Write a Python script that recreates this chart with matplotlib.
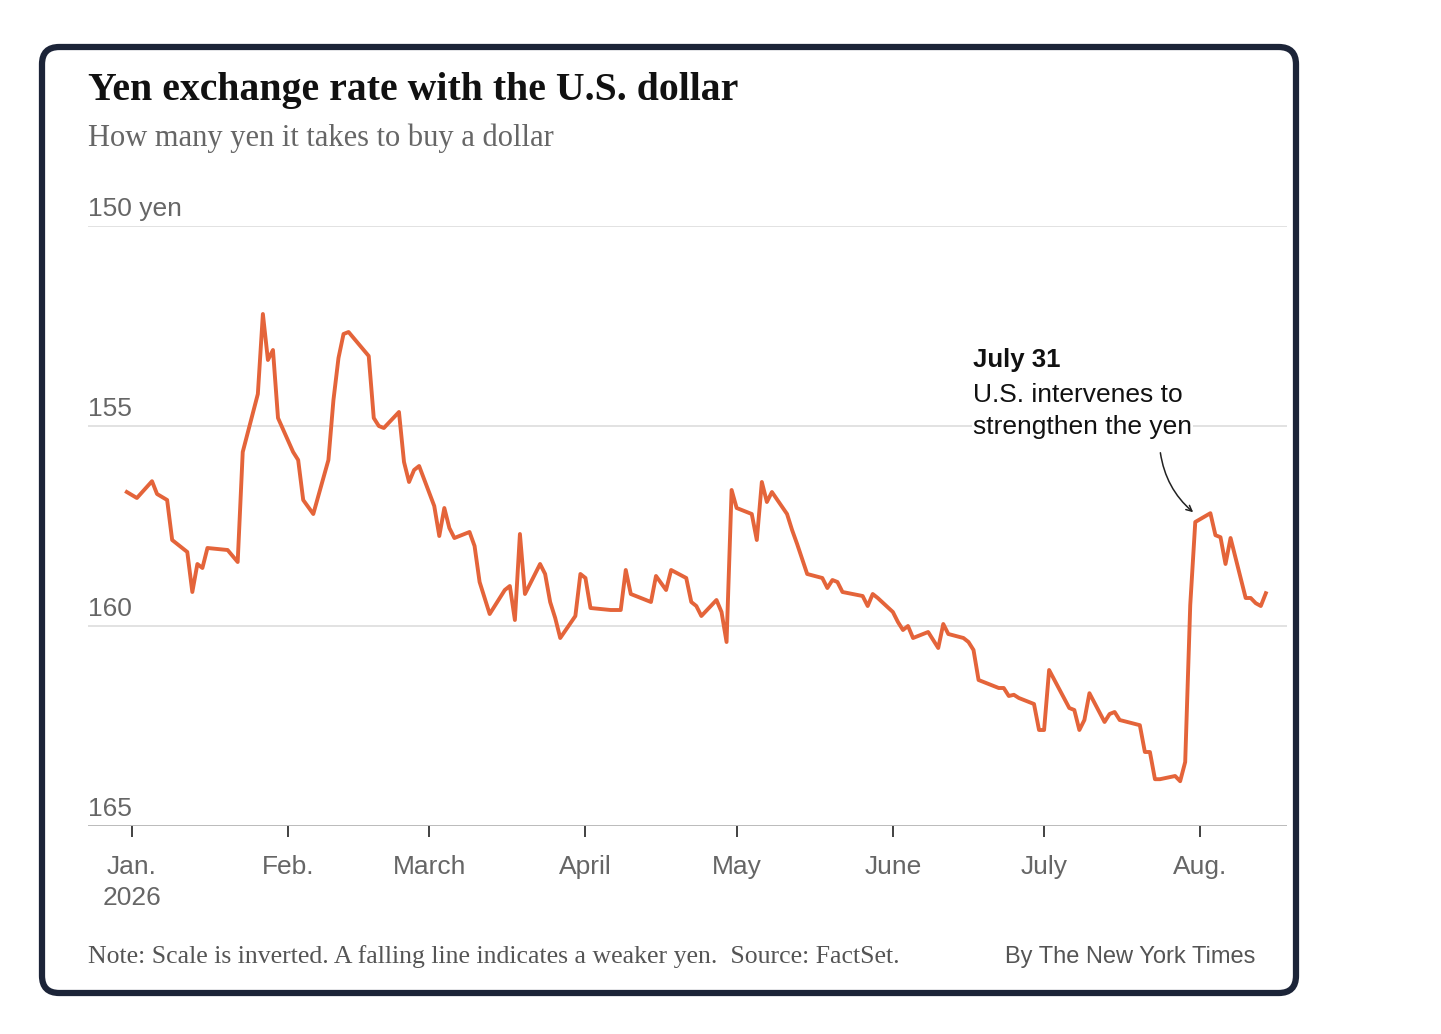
import matplotlib
matplotlib.use("Agg")
import matplotlib.pyplot as plt
from matplotlib.patches import FancyBboxPatch
import datetime as dt

dates = ["2025-12-31","2026-01-02","2026-01-05","2026-01-06","2026-01-08","2026-01-09","2026-01-12","2026-01-13",
"2026-01-14","2026-01-15","2026-01-16","2026-01-20","2026-01-22","2026-01-23","2026-01-26","2026-01-27","2026-01-28",
"2026-01-29","2026-01-30","2026-02-02","2026-02-03","2026-02-04","2026-02-06","2026-02-09","2026-02-10","2026-02-11",
"2026-02-12","2026-02-13","2026-02-17","2026-02-18","2026-02-19","2026-02-20","2026-02-23","2026-02-24","2026-02-25",
"2026-02-26","2026-02-27","2026-03-02","2026-03-03","2026-03-04","2026-03-05","2026-03-06","2026-03-09","2026-03-10",
"2026-03-11","2026-03-13","2026-03-16","2026-03-17","2026-03-18","2026-03-19","2026-03-20","2026-03-23","2026-03-24",
"2026-03-25","2026-03-26","2026-03-27","2026-03-30","2026-03-31","2026-04-01","2026-04-02","2026-04-06","2026-04-08",
"2026-04-09","2026-04-10","2026-04-13","2026-04-14","2026-04-15","2026-04-17","2026-04-18","2026-04-21","2026-04-22",
"2026-04-23","2026-04-24","2026-04-27","2026-04-28","2026-04-29","2026-04-30","2026-05-01","2026-05-04","2026-05-05",
"2026-05-06","2026-05-07","2026-05-08","2026-05-11","2026-05-12","2026-05-13","2026-05-15","2026-05-18","2026-05-19",
"2026-05-20","2026-05-21","2026-05-22","2026-05-26","2026-05-27","2026-05-28","2026-05-29","2026-06-01","2026-06-02",
"2026-06-03","2026-06-04","2026-06-05","2026-06-08","2026-06-10","2026-06-11","2026-06-12","2026-06-15","2026-06-16",
"2026-06-17","2026-06-18","2026-06-19","2026-06-22","2026-06-23","2026-06-24","2026-06-25","2026-06-26","2026-06-29",
"2026-06-30","2026-07-01","2026-07-02","2026-07-06","2026-07-07","2026-07-08","2026-07-09","2026-07-10","2026-07-13",
"2026-07-14","2026-07-15","2026-07-16","2026-07-20","2026-07-21","2026-07-22","2026-07-23","2026-07-24","2026-07-27",
"2026-07-28","2026-07-29","2026-07-30","2026-07-31","2026-08-03","2026-08-04","2026-08-05","2026-08-06","2026-08-07",
"2026-08-10","2026-08-11","2026-08-12","2026-08-13","2026-08-14"]
values = [156.65,156.8,156.38,156.7,156.85,157.85,158.15,159.15,158.45,158.55,158.05,158.1,158.4,155.65,154.2,152.2,153.35,
153.1,154.8,155.65,155.85,156.85,157.2,155.85,154.35,153.3,152.7,152.65,153.25,154.8,155.0,155.05,154.65,155.9,156.4,
156.1,156.0,157.0,157.75,157.05,157.55,157.8,157.65,158.0,158.9,159.7,159.1,159.0,159.85,157.7,159.2,158.45,158.7,
159.4,159.8,160.3,159.75,158.7,158.8,159.55,159.6,159.6,158.6,159.2,159.35,159.4,158.75,159.1,158.6,158.8,159.4,
159.5,159.75,159.35,159.65,160.4,156.6,157.05,157.2,157.85,156.4,156.9,156.65,157.2,157.6,157.95,158.7,158.8,
159.05,158.85,158.9,159.15,159.25,159.5,159.2,159.3,159.65,159.9,160.1,160.0,160.3,160.15,160.55,159.95,160.2,160.3,
160.4,160.6,161.35,161.4,161.55,161.55,161.75,161.72,161.8,161.95,162.6,162.6,161.1,162.05,162.1,162.6,162.35,161.68,
162.4,162.2,162.15,162.35,162.48,163.15,163.15,163.83,163.83,163.75,163.88,163.4,159.48,157.4,157.18,157.73,157.78,
158.45,157.8,159.3,159.3,159.43,159.5,159.18]
x = [dt.datetime.strptime(d, "%Y-%m-%d") for d in dates]

yticks = [150, 155, 160, 165]
ytick_labels = ["150 yen", "155", "160", "165"]
xticks = ["2026-01-01","2026-02-01","2026-03-01","2026-04-01","2026-05-01","2026-06-01","2026-07-01","2026-08-01"]
xtick_labels = ["Jan.\n2026","Feb.","March","April","May","June","July","Aug."]

W, H = 1441, 1034
fig = plt.figure(figsize=(W/100, H/100), dpi=100)
fig.patch.set_facecolor("white")
card = FancyBboxPatch((42/W, 1-993/H), 1254/W, 946/H, boxstyle="round,pad=0,rounding_size=0.012",
                      transform=fig.transFigure, fc="white", ec="#1c2438", lw=4.5, zorder=-10,
                      mutation_aspect=W/H)
fig.patches.append(card)

ax = fig.add_axes([88/W, 1-826/H, (1287-88)/W, 600/H], zorder=5)
ax.set_facecolor("none")
ax.plot(x, values, color="#e4643a", lw=2.8, zorder=3)
ax.set_ylim(165, 150)
start = dt.datetime(2026,1,1)
ax.set_xlim(start - dt.timedelta(days=8.7), start + dt.timedelta(days=229.2))
for s in ax.spines.values():
    s.set_visible(False)
for yv in yticks[:-1]:
    ax.axhline(yv, color="#dddddd", lw=1.2, zorder=1)
ax.axhline(165, color="#bbbbbb", lw=1.4, zorder=1)
ax.set_yticks([])
xt = [dt.datetime.strptime(d, "%Y-%m-%d") for d in xticks]
ax.set_xticks(xt)
ax.set_xticklabels(xtick_labels, fontsize=19, color="#666666", family="Liberation Sans", linespacing=1.35)
ax.tick_params(axis="x", length=8, width=1.3, color="#333333", pad=13)
for yv, lab in zip(yticks, ytick_labels):
    ax.text(0, yv - 0.12, lab, transform=ax.get_yaxis_transform(), fontsize=19, color="#666666",
            family="Liberation Sans", va="bottom", ha="left")

ax.annotate("", xy=(dt.datetime(2026,7,31), 157.2), xytext=(dt.datetime(2026,7,24), 155.6),
            arrowprops=dict(arrowstyle="->", color="#222222", lw=1.1, connectionstyle="arc3,rad=0.2"))
bb = dict(facecolor="white", edgecolor="none", pad=1)
fig.text(973/W, 1-367/H, "July 31", fontsize=18.5, fontweight="bold", color="#111111",
         family="Liberation Sans", va="baseline", zorder=10, bbox=bb)
fig.text(973/W, 1-402/H, "U.S. intervenes to", fontsize=19, color="#111111",
         family="Liberation Sans", va="baseline", zorder=10, bbox=bb)
fig.text(973/W, 1-434/H, "strengthen the yen", fontsize=19, color="#111111",
         family="Liberation Sans", va="baseline", zorder=10, bbox=bb)

fig.text(88/W, 1-100/H, "Yen exchange rate with the U.S. dollar", fontsize=28.6, fontweight="bold",
         family="Liberation Serif", color="#111111")
fig.text(88/W, 1-146/H, "How many yen it takes to buy a dollar", fontsize=22, family="Liberation Serif",
         color="#666666")
fig.text(88/W, 1-963/H, "Note: Scale is inverted. A falling line indicates a weaker yen.  Source: FactSet.",
         fontsize=18.5, family="Liberation Serif", color="#555555")
fig.text(1255/W, 1-963/H, "By The New York Times", fontsize=17, family="Liberation Sans",
         color="#555555", ha="right")

fig.savefig("out.png", dpi=100)
